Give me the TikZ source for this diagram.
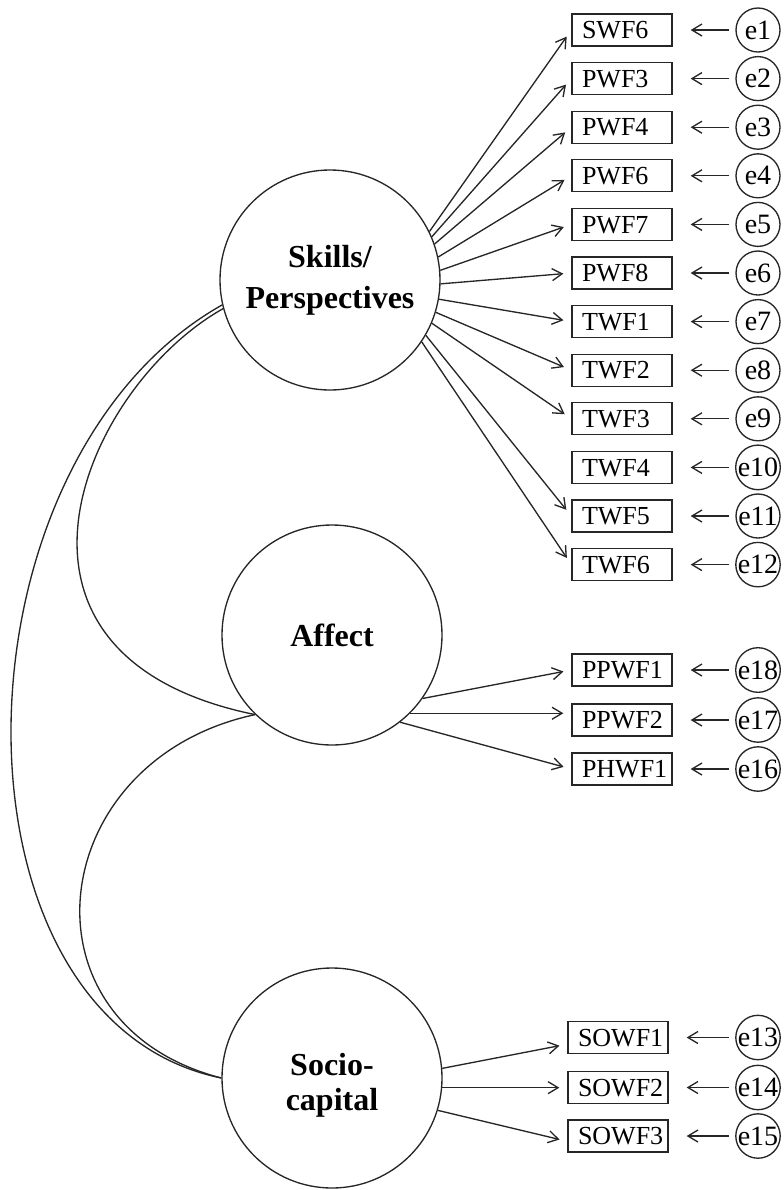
\documentclass[tikz,border=0pt]{standalone}
\usepackage{fontspec}
\setmainfont{Liberation Serif}
\usetikzlibrary{arrows.meta}

\begin{document}
\begin{tikzpicture}[x=0.75pt,y=-0.75pt,
  line width=1pt, draw=black!85,
  latent/.style={circle,draw,minimum size=165pt,inner sep=0pt,align=center,
    font=\fontsize{24}{30.75}\selectfont\bfseries},
  latlabel/.style={align=center,inner sep=0pt,font=\fontsize{24}{26.5}\selectfont\bfseries},
  obs/.style={draw,minimum height=24pt,text width=60pt,inner xsep=7.5pt,inner ysep=0pt,
    align=left,text height=12.9pt,text depth=0pt,font=\fontsize{19.5}{22}\selectfont},
  err/.style={circle,draw,minimum size=33pt,inner sep=0pt,font=\fontsize{21}{23}\selectfont},
  load/.style={-{Straight Barb[length=7.5pt,width=9pt]},shorten >=6pt},
  eload/.style={-{Straight Barb[length=7.5pt,width=9pt]},shorten >=13.5pt,shorten <=4.5pt},
  cov/.style={line width=1pt}
]
\useasboundingbox (0,0) rectangle (783,1190);

% latent factors
\node[latent] (S) at (330,280) {Skills/\\Perspectives};
\node[latent] (A) at (332,635) {Affect};
\node[latent] (C) at (332,1078) {};
\node[latlabel] (Clabel) at (332,1085) {Socio-\\capital};

% indicators with their error terms
\foreach \n/\t/\y/\e in {b1/SWF6/30/e1, b2/PWF3/78.6/e2, b3/PWF4/127.2/e3, b4/PWF6/175.8/e4,
    b5/PWF7/224.4/e5, b6/PWF8/273/e6, b7/TWF1/321.6/e7, b8/TWF2/370.2/e8,
    b9/TWF3/418.8/e9, b10/TWF4/467.4/e10, b11/TWF5/516/e11, b12/TWF6/564.6/e12,
    p1/PPWF1/670/e18, p2/PPWF2/720/e17, p3/PHWF1/769/e16}
{
  \node[obs] (\n) at (622,\y) {\t};
  \node[err] (e\n) at (758,\y) {\e};
  \draw[eload] (e\n) -- (\n);
}
\foreach \n/\t/\y/\e in {s1/SOWF1/1037.5/e13, s2/SOWF2/1087.5/e14, s3/SOWF3/1136/e15}
{
  \node[obs] (\n) at (618,\y) {\t};
  \node[err] (e\n) at (758,\y) {\e};
  \draw[eload] (e\n) -- (\n);
}

% loadings
\foreach \n/\a in {b1/26, b2/23, b3/19, b4/12, b5/5, b6/-2, b7/-10, b8/-17, b9/-23, b11/-30, b12/-34}
  \draw[load] (S.\a) -- (\n.west);
\draw[load] (A.-35) -- (p1.west);
\draw[load] (A.-45) -- (p2.west |- A.-45);
\draw[load] (A.-52.5) -- (p3.west);
\draw[load] (C.5) -- ([yshift=-5pt]s1.west);
\draw[load] (C.-5) -- (s2.west |- C.-5);
\draw[load] (C.-17) -- ([yshift=-4pt]s3.west);

% covariances
\draw[cov] (S.193.5) .. controls +(-278,157) and +(-284,-58) .. (C.180);
\draw[cov] (S.195) .. controls +(-139,78) and +(-289,-59) .. (A.226);
\draw[cov] (A.226.5) .. controls +(-211,45) and +(-209,-54) .. (C.180);
\end{tikzpicture}
\end{document}
